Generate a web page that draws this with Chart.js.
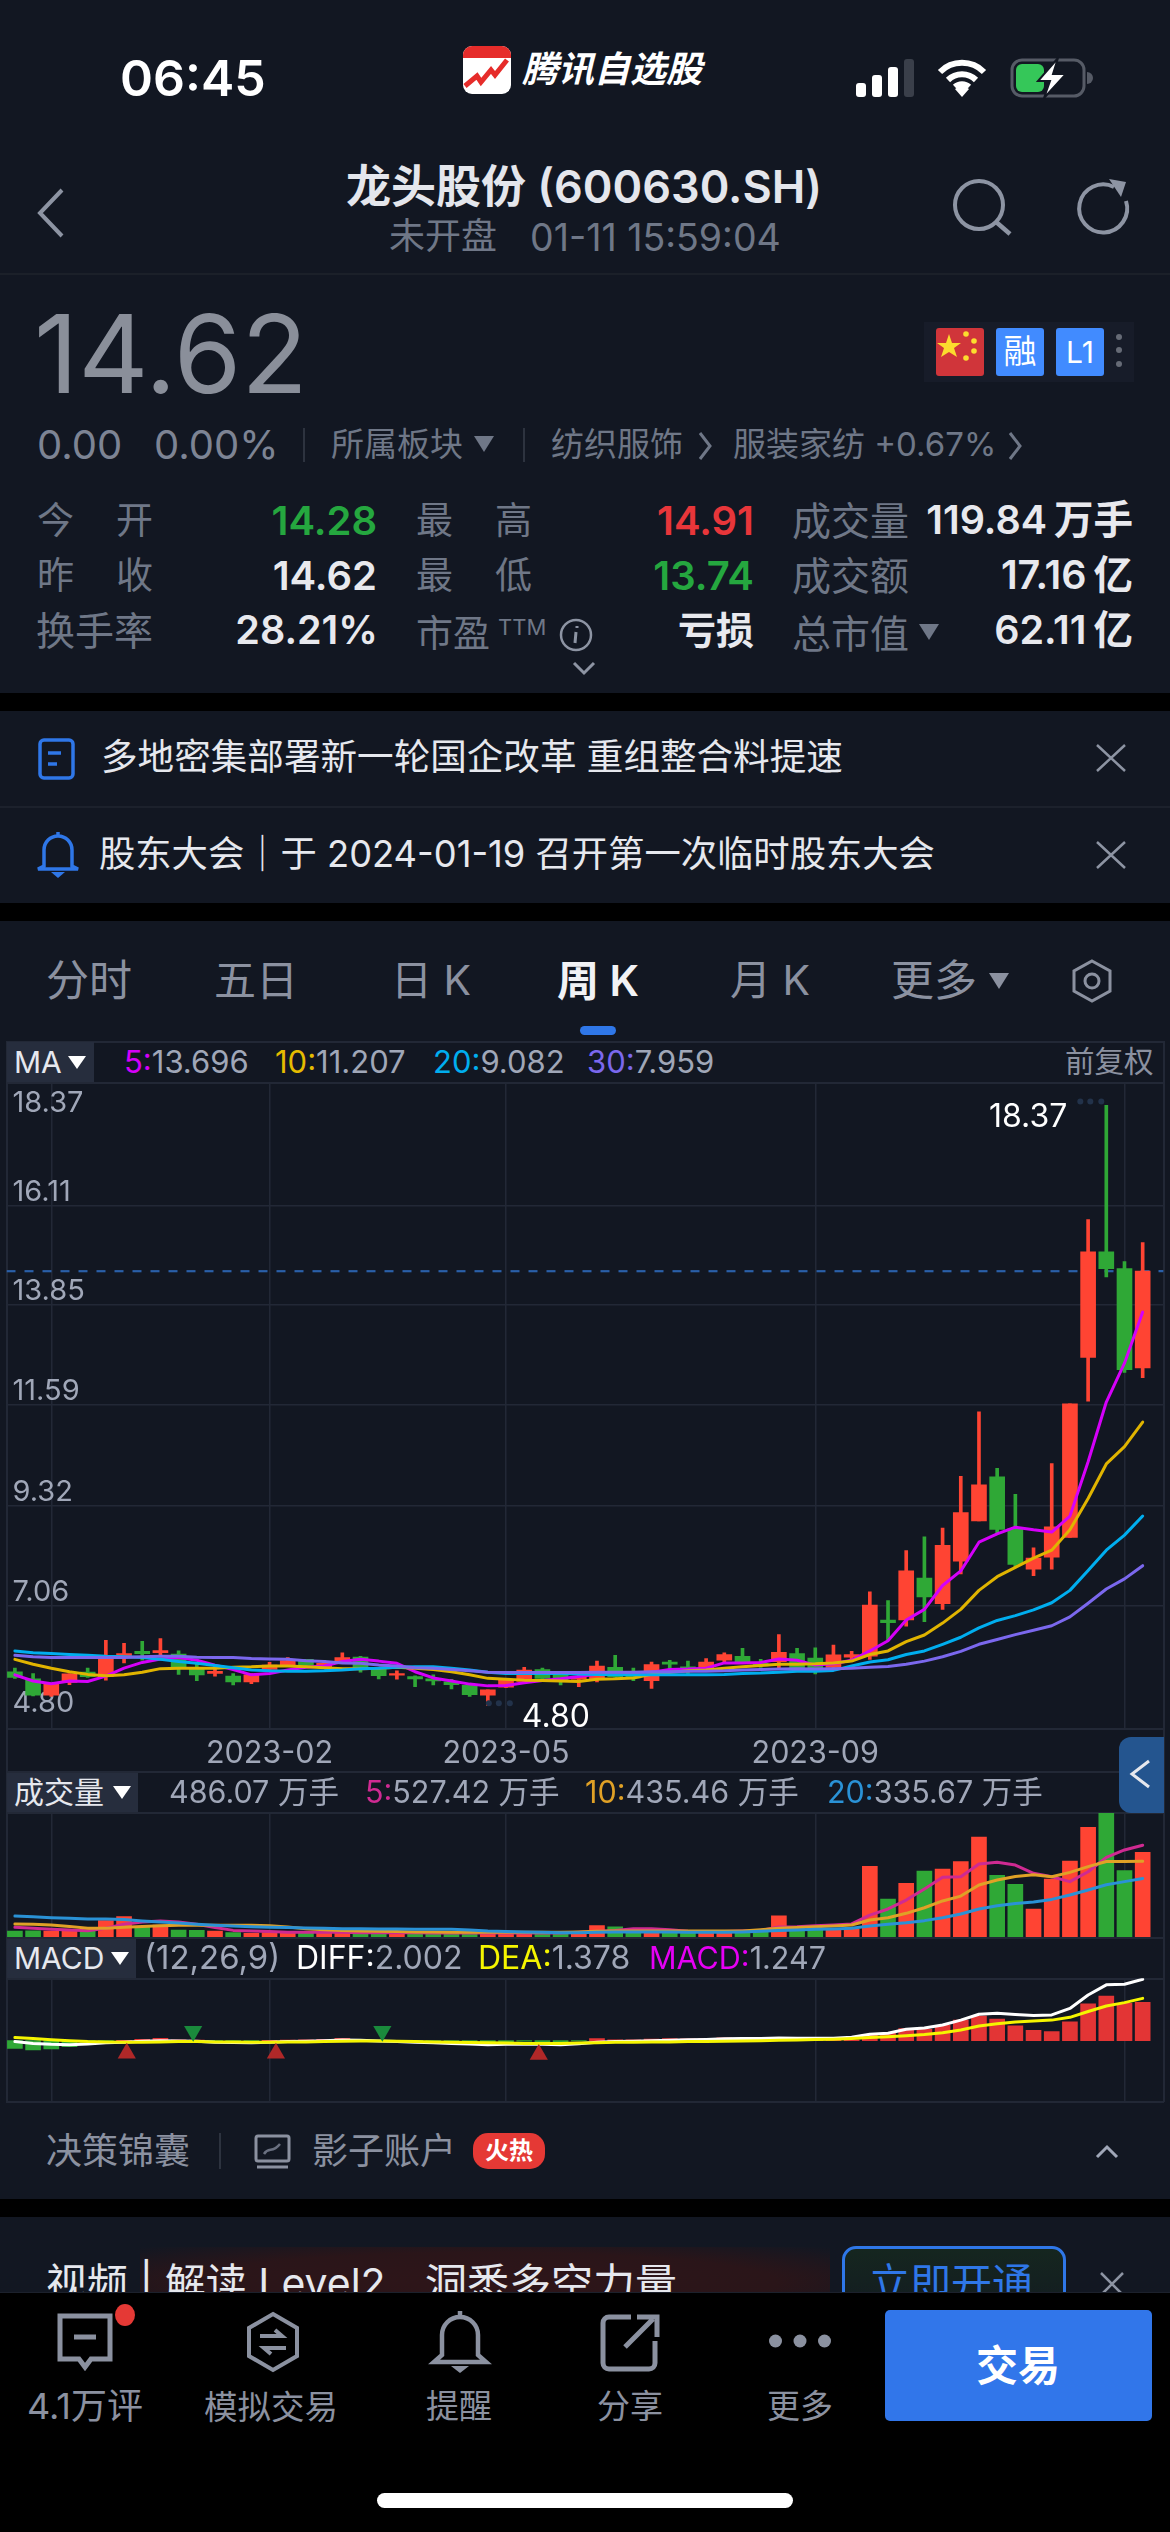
<!DOCTYPE html>
<html lang="zh-CN"><head><meta charset="utf-8"><title>龙头股份 周K</title>
<script src="https://cdn.jsdelivr.net/npm/chart.js@4"></script>
<style>
html,body{margin:0;padding:0;background:#000;}
#page{position:relative;width:1170px;height:2532px;overflow:hidden;background:#000;font-family:Inter,"Noto Sans CJK SC",sans-serif;color:#8b91a0;}
.sec{position:absolute;left:0;width:1170px;background:#121722;}
.t{position:absolute;white-space:nowrap;transform:translateY(-50%);line-height:1.2;}
.r{position:absolute;white-space:nowrap;transform:translateY(-50%);line-height:1.2;text-align:right;}
.r span{margin-left:7px;}
.c{position:absolute;white-space:nowrap;transform:translate(-50%,-50%);line-height:1.2;}
.box{position:absolute;background:#262d3d;}
.hl{position:absolute;left:6px;width:1158px;height:1.5px;background:#222836;}
.vl{position:absolute;width:1.5px;background:#222836;}
svg{position:absolute;overflow:visible;}
canvas{position:absolute;left:0;}
.tri{position:absolute;width:0;height:0;border-left:9px solid transparent;border-right:9px solid transparent;border-top:13px solid #fff;}
</style></head><body><div id="page">

<div class="sec" style="top:0;height:693px"></div>
<div class="sec" style="top:711px;height:192px"></div>
<div class="sec" style="top:921px;height:1278px"></div>
<div class="sec" style="top:2217px;height:80px"></div>

<!-- status bar -->
<div class="t" style="left:120px;top:78px;font-size:50px;font-weight:600;color:#fff">06:45</div>
<svg style="left:463px;top:46px" width="48" height="48" viewBox="0 0 48 48"><rect width="48" height="48" rx="9" fill="#fff"/><path d="M0 12V9a9 9 0 0 1 9-9h30a9 9 0 0 1 9 9v3z" fill="#e62c2a"/><path d="M2 40L14 30l4 6 10-12 4 5 12-15" fill="none" stroke="#e62c2a" stroke-width="5"/></svg>
<div class="t" style="left:522px;top:70px;font-size:36px;font-weight:700;font-style:italic;color:#fff">腾讯自选股</div>
<svg style="left:856px;top:59px" width="58" height="38"><rect x="0" y="24" width="10" height="14" rx="3" fill="#fff"/><rect x="16" y="16" width="10" height="22" rx="3" fill="#fff"/><rect x="32" y="8" width="10" height="30" rx="3" fill="#fff"/><rect x="48" y="0" width="10" height="38" rx="3" fill="#3a3f4a"/></svg>
<svg style="left:937px;top:59px" width="50" height="38" viewBox="0 0 50 38"><path d="M3 13a31 31 0 0 1 44 0M11 21a20 20 0 0 1 28 0M18 28a10 10 0 0 1 14 0" fill="none" stroke="#fff" stroke-width="6"/><path d="M25 38l-7-8a10 10 0 0 1 14 0z" fill="#fff"/></svg>
<svg style="left:1010px;top:58px" width="80" height="40" viewBox="0 0 80 40"><rect x="2" y="2" width="72" height="36" rx="10" fill="none" stroke="#565b66" stroke-width="3"/><rect x="6" y="6" width="28" height="28" rx="6" fill="#35c759"/><path d="M77 14a6 6 0 0 1 0 12z" fill="#565b66"/><path d="M48 0L28 23h12l-6 17 22-24H43z" fill="#fff" stroke="#121722" stroke-width="2"/></svg>

<!-- header -->
<svg style="left:36px;top:188px" width="28" height="50"><path d="M26 2L4 25l22 23" fill="none" stroke="#8d94a3" stroke-width="4"/></svg>
<div class="c" style="left:584px;top:187px;font-size:45px;font-weight:600;color:#e4e6ec">龙头股份 (600630.SH)</div>
<div class="t" style="left:389px;top:237px;font-size:36px;color:#6f7787">未开盘</div>
<div class="t" style="left:530px;top:237px;font-size:37.5px;color:#6f7787">01-11 15:59:04</div>
<svg style="left:953px;top:179px" width="60" height="56"><circle cx="26" cy="26" r="24" fill="none" stroke="#8d94a3" stroke-width="4"/><path d="M42 42l15 13" stroke="#8d94a3" stroke-width="4.5"/></svg>
<svg style="left:1076px;top:179px" width="52" height="54"><path d="M38 8a24 24 0 1 0 12 14" fill="none" stroke="#8d94a3" stroke-width="4"/><path d="M33 0l17 3-5 15z" fill="#8d94a3"/></svg>
<div style="position:absolute;left:0;top:273px;width:1170px;height:1.5px;background:#1b2029"></div>

<!-- quote -->
<div class="t" style="left:34px;top:353px;font-size:109px;font-weight:400;color:#8a8f9a">14.62</div>
<div style="position:absolute;left:924px;top:322px;width:210px;height:60px;background:#171c29"></div>
<svg style="left:936px;top:328px" width="48" height="48" viewBox="0 0 48 48"><rect width="48" height="48" rx="3" fill="#d0353a"/><polygon points="13,6 16,15 25,15 18,20 21,29 13,24 5,29 8,20 1,15 10,15" fill="#fcdc2e"/><circle cx="30" cy="6" r="2.8" fill="#fcdc2e"/><circle cx="38" cy="13" r="2.8" fill="#fcdc2e"/><circle cx="38" cy="23" r="2.8" fill="#fcdc2e"/><circle cx="30" cy="30" r="2.8" fill="#fcdc2e"/></svg>
<div style="position:absolute;left:996px;top:328px;width:48px;height:48px;border-radius:3px;background:#418bff"></div>
<div class="c" style="left:1020px;top:352px;font-size:33px;color:#fff">融</div>
<div style="position:absolute;left:1056px;top:328px;width:48px;height:48px;border-radius:3px;background:#418bff"></div>
<div class="c" style="left:1080px;top:352px;font-size:30px;color:#fff">L1</div>
<svg style="left:1115px;top:333px" width="8" height="36"><circle cx="4" cy="4" r="3" fill="#666b76"/><circle cx="4" cy="17" r="3" fill="#666b76"/><circle cx="4" cy="31" r="3" fill="#666b76"/></svg>

<div class="t" style="left:37px;top:445px;font-size:40px;color:#7d8494">0.00</div>
<div class="t" style="left:154px;top:445px;font-size:40px;color:#7d8494">0.00%</div>
<div style="position:absolute;left:303px;top:428px;width:2px;height:34px;background:#2d333f"></div>
<div class="t" style="left:331px;top:445px;font-size:33px;color:#6f7787">所属板块</div>
<svg style="left:474px;top:436px" width="20" height="16"><path d="M0 0h20L10 16z" fill="#6f7787"/></svg>
<div style="position:absolute;left:523px;top:428px;width:2px;height:34px;background:#2d333f"></div>
<div class="t" style="left:551px;top:445px;font-size:33px;color:#6f7787">纺织服饰</div>
<svg style="left:698px;top:431px" width="14" height="30"><path d="M2 2l10 13L2 28" fill="none" stroke="#6f7787" stroke-width="3"/></svg>
<div class="t" style="left:733px;top:445px;font-size:33px;color:#6f7787">服装家纺 +0.67%</div>
<svg style="left:1008px;top:431px" width="14" height="30"><path d="M2 2l10 13L2 28" fill="none" stroke="#6f7787" stroke-width="3"/></svg>

<div class="t" style="left:37px;top:521px;font-size:37px;color:#6f7787">今</div><div class="t" style="left:116px;top:521px;font-size:37px;color:#6f7787">开</div>
<div class="t" style="left:37px;top:576px;font-size:37px;color:#6f7787">昨</div><div class="t" style="left:116px;top:576px;font-size:37px;color:#6f7787">收</div>
<div class="t" style="left:36px;top:631px;font-size:39px;color:#6f7787">换手率</div>
<div class="r" style="right:793px;top:521px;font-size:40px;font-weight:600;color:#25a73f">14.28</div>
<div class="r" style="right:793px;top:576px;font-size:40px;font-weight:600;color:#e8e9ee">14.62</div>
<div class="r" style="right:792px;top:631px;font-size:39.5px;font-weight:600;color:#e8e9ee">28.21%</div>
<div class="t" style="left:416px;top:521px;font-size:37px;color:#6f7787">最</div><div class="t" style="left:495px;top:521px;font-size:37px;color:#6f7787">高</div>
<div class="t" style="left:416px;top:576px;font-size:37px;color:#6f7787">最</div><div class="t" style="left:495px;top:576px;font-size:37px;color:#6f7787">低</div>
<div class="t" style="left:416px;top:634px;font-size:37px;color:#6f7787">市盈</div>
<div class="t" style="left:498px;top:627px;font-size:22px;color:#6f7787">TTM</div>
<svg style="left:559px;top:618px" width="34" height="34"><circle cx="17" cy="17" r="15" fill="none" stroke="#8d94a3" stroke-width="2.5"/><path d="M18 8v2M17 14l-1 11" stroke="#8d94a3" stroke-width="3"/></svg>
<svg style="left:572px;top:661px" width="24" height="14"><path d="M2 2l10 10L22 2" fill="none" stroke="#8d94a3" stroke-width="3"/></svg>
<div class="r" style="right:416px;top:521px;font-size:40px;font-weight:600;color:#e8363a">14.91</div>
<div class="r" style="right:416px;top:576px;font-size:40px;font-weight:600;color:#25a73f">13.74</div>
<div class="r" style="right:416px;top:631px;font-size:38px;font-weight:600;color:#e8e9ee">亏损</div>
<div class="t" style="left:792px;top:521px;font-size:39px;color:#6f7787">成交量</div>
<div class="t" style="left:792px;top:576px;font-size:39px;color:#6f7787">成交额</div>
<div class="t" style="left:792px;top:634px;font-size:39px;color:#6f7787">总市值</div>
<svg style="left:919px;top:624px" width="20" height="16"><path d="M0 0h20L10 16z" fill="#6f7787"/></svg>
<div class="r" style="right:37px;top:521px;font-size:39.5px;font-weight:600;color:#e8e9ee">119.84<span>万手</span></div>
<div class="r" style="right:37px;top:576px;font-size:39.5px;font-weight:600;color:#e8e9ee">17.16<span>亿</span></div>
<div class="r" style="right:37px;top:631px;font-size:39.5px;font-weight:600;color:#e8e9ee">62.11<span>亿</span></div>

<!-- news -->
<svg style="left:38px;top:738px" width="38" height="42"><rect x="2" y="2" width="33" height="38" rx="4" fill="none" stroke="#2f77e8" stroke-width="3.5"/><path d="M10 15h13M10 26h9" stroke="#2f77e8" stroke-width="3.5"/></svg>
<div class="t" style="left:101px;top:758px;font-size:36.6px;color:#e6e8ee">多地密集部署新一轮国企改革 重组整合料提速</div>
<svg style="left:1096px;top:744px" width="30" height="28"><path d="M1 1l28 26M29 1L1 27" stroke="#8d94a3" stroke-width="2.5"/></svg>
<div style="position:absolute;left:0;top:806px;width:1170px;height:1.5px;background:#1c212c"></div>
<svg style="left:36px;top:832px" width="44" height="46"><path d="M22 0v4M8 34V18a14 14 0 0 1 28 0v16l6 3H2z" fill="none" stroke="#2f77e8" stroke-width="3.5"/><path d="M15 40h14l-7 6z" fill="#2f77e8"/></svg>
<div class="t" style="left:99px;top:855px;font-size:36.3px;color:#e6e8ee">股东大会｜于 2024-01-19 召开第一次临时股东大会</div>
<svg style="left:1096px;top:841px" width="30" height="28"><path d="M1 1l28 26M29 1L1 27" stroke="#8d94a3" stroke-width="2.5"/></svg>

<!-- tabs -->
<div class="t" style="left:46px;top:981px;font-size:43px;color:#8b91a0">分时</div>
<div class="t" style="left:214px;top:981px;font-size:42px;color:#8b91a0">五日</div>
<div class="t" style="left:391px;top:981px;font-size:41px;color:#8b91a0">日 K</div>
<div class="t" style="left:557px;top:981px;font-size:42px;font-weight:600;color:#f1f2f5">周 K</div>
<div class="t" style="left:730px;top:981px;font-size:41px;color:#8b91a0">月 K</div>
<div class="t" style="left:891px;top:981px;font-size:43px;color:#8b91a0">更多</div>
<svg style="left:989px;top:973px" width="20" height="16"><path d="M0 0h20L10 16z" fill="#8b91a0"/></svg>
<svg style="left:1071px;top:959px" width="42" height="44"><path d="M21 2l18 10v20L21 42 3 32V12z" fill="none" stroke="#8b91a0" stroke-width="3"/><circle cx="21" cy="22" r="7" fill="none" stroke="#8b91a0" stroke-width="3"/></svg>
<div style="position:absolute;left:580px;top:1026px;width:36px;height:9px;border-radius:5px;background:#2f77e8"></div>

<!-- chart frame -->
<div class="hl" style="top:1041px"></div><div class="hl" style="top:1082px"></div><div class="hl" style="top:1728px"></div>
<div class="hl" style="top:1771px"></div><div class="hl" style="top:1812px"></div><div class="hl" style="top:1937px"></div>
<div class="hl" style="top:1978px"></div><div class="hl" style="top:2101px"></div>
<div class="vl" style="left:6px;top:1041px;height:1061px"></div><div class="vl" style="left:1163px;top:1041px;height:1061px"></div>

<div class="box" style="left:7px;top:1042px;width:87px;height:40px"></div>
<div class="t" style="left:14px;top:1062px;font-size:30px;color:#e6e8ee">MA</div>
<div class="tri" style="left:68px;top:1056px;"></div>
<div class="t" style="left:124px;top:1062px;font-size:31px;color:#a0a7b8"><span style="color:#d500f9">5:</span>13.696</div>
<div class="t" style="left:275px;top:1062px;font-size:31px;color:#a0a7b8"><span style="color:#e5bc00">10:</span>11.207</div>
<div class="t" style="left:433px;top:1062px;font-size:31px;color:#a0a7b8"><span style="color:#00aeef">20:</span>9.082</div>
<div class="t" style="left:587px;top:1062px;font-size:31px;color:#a0a7b8"><span style="color:#7b68ee">30:</span>7.959</div>
<div class="t" style="left:1065px;top:1062px;font-size:29.5px;color:#8b91a0">前复权</div>

<canvas id="priceChart" width="1170" height="720" style="top:1060px"></canvas>

<div class="box" style="left:7px;top:1773px;width:131px;height:39px"></div>
<div class="t" style="left:14px;top:1792px;font-size:30px;color:#e6e8ee">成交量</div>
<div class="tri" style="left:113px;top:1786px;"></div>
<div class="t" style="left:169px;top:1792px;font-size:30.5px;color:#a0a7b8">486.07 万手</div>
<div class="t" style="left:365px;top:1792px;font-size:30.5px;color:#a0a7b8"><span style="color:#cf2a92">5:</span>527.42 万手</div>
<div class="t" style="left:585px;top:1792px;font-size:30.5px;color:#a0a7b8"><span style="color:#e0a126">10:</span>435.46 万手</div>
<div class="t" style="left:827px;top:1792px;font-size:30.5px;color:#a0a7b8"><span style="color:#2a92d6">20:</span>335.67 万手</div>
<canvas id="volumeChart" width="1170" height="130" style="top:1810px"></canvas>

<div class="box" style="left:7px;top:1939px;width:129px;height:39px"></div>
<div class="t" style="left:14px;top:1958px;font-size:30px;color:#e6e8ee">MACD</div>
<div class="tri" style="left:111px;top:1952px;"></div>
<div class="t" style="left:144px;top:1958px;font-size:33px;color:#a0a7b8">(12,26,9)</div>
<div class="t" style="left:296px;top:1958px;font-size:32px;color:#a0a7b8"><span style="color:#fff">DIFF:</span>2.002</div>
<div class="t" style="left:478px;top:1958px;font-size:32px;color:#a0a7b8"><span style="color:#f5f500">DEA:</span>1.378</div>
<div class="t" style="left:649px;top:1958px;font-size:30.5px;color:#a0a7b8"><span style="color:#e600f5">MACD:</span>1.247</div>
<canvas id="macdChart" width="1170" height="130" style="top:1975px"></canvas>

<svg style="left:1119px;top:1737px" width="45" height="76"><path d="M45 0H12A12 12 0 0 0 0 12v52a12 12 0 0 0 12 12h33z" fill="#24558f"/><path d="M30 24L13 37l17 13" fill="none" stroke="#e6e8ee" stroke-width="3"/></svg>

<!-- decision bar -->
<div class="t" style="left:46px;top:2152px;font-size:36px;color:#8b91a0">决策锦囊</div>
<div style="position:absolute;left:219px;top:2133px;width:2px;height:36px;background:#2d333f"></div>
<svg style="left:254px;top:2134px" width="38" height="36"><rect x="2" y="2" width="33" height="25" rx="2" fill="none" stroke="#8b91a0" stroke-width="3"/><path d="M3 33h31" stroke="#8b91a0" stroke-width="3"/><path d="M10 20c5-8 8 0 16-10" fill="none" stroke="#6a7080" stroke-width="2.5"/></svg>
<div class="t" style="left:312px;top:2152px;font-size:36px;color:#8b91a0">影子账户</div>
<div style="position:absolute;left:473px;top:2133px;width:72px;height:36px;border-radius:15px;background:#e53935"></div>
<div class="c" style="left:509px;top:2151px;font-size:24px;font-weight:700;color:#fff">火热</div>
<svg style="left:1095px;top:2145px" width="24" height="14"><path d="M2 12L12 2l10 10" fill="none" stroke="#a0a7b8" stroke-width="3"/></svg>

<!-- ad, clipped by the toolbar -->
<div style="position:absolute;left:140px;top:2247px;width:690px;height:50px;background:radial-gradient(ellipse at 50% 70%,#2e1519 0%,#2a1519 60%,#121722 100%)"></div>
<div class="t" style="left:46px;top:2284px;font-size:41px;color:#e6e8ee">视频 | 解读 Level2</div>
<div class="t" style="left:425px;top:2284px;font-size:42px;color:#e6e8ee">洞悉多空力量</div>
<div style="position:absolute;left:842px;top:2246px;width:218px;height:90px;border:3px solid #2f77e8;border-radius:14px;box-sizing:content-box;background:linear-gradient(#15261f,#121722)"></div>
<div class="t" style="left:869px;top:2284px;font-size:41px;color:#2f77e8">立即开通</div>
<svg style="left:1100px;top:2272px" width="24" height="24"><path d="M1 1l22 22M23 1L1 23" stroke="#8d94a3" stroke-width="2.5"/></svg>

<!-- toolbar -->
<div style="position:absolute;left:0;top:2292px;width:1170px;height:240px;background:#000;border-top:1.5px solid #1c212c;box-sizing:border-box"></div>
<svg style="left:57px;top:2313px" width="58" height="56"><path d="M3 3h50v43H34l-6 8-6-8H3z" fill="none" stroke="#8b91a0" stroke-width="5"/><path d="M17 24h22" stroke="#8b91a0" stroke-width="5"/></svg>
<svg style="left:115px;top:2304px" width="20" height="22"><ellipse cx="10" cy="11" rx="10" ry="11" fill="#e53935"/></svg>
<svg style="left:246px;top:2311px" width="54" height="62"><path d="M27 3l24 14v28L27 59 3 45V17z" fill="none" stroke="#8b91a0" stroke-width="4"/><path d="M14 25h22l-7-6M40 37H18l7 6" fill="none" stroke="#8b91a0" stroke-width="4"/></svg>
<svg style="left:431px;top:2311px" width="58" height="62"><path d="M29 0v8M11 44V24a18 18 0 0 1 36 0v20l8 7H3z" fill="none" stroke="#8b91a0" stroke-width="4.5"/><path d="M20 55h18l-9 7z" fill="#8b91a0"/></svg>
<svg style="left:601px;top:2313px" width="58" height="58"><path d="M30 4H8a6 6 0 0 0-6 6v40a6 6 0 0 0 6 6h40a6 6 0 0 0 6-6V28M24 34L52 6M36 4h20v20" fill="none" stroke="#8b91a0" stroke-width="5"/></svg>
<svg style="left:769px;top:2334px" width="62" height="14"><circle cx="6.5" cy="7" r="6.5" fill="#8b91a0"/><circle cx="31" cy="7" r="6.5" fill="#8b91a0"/><circle cx="55.5" cy="7" r="6.5" fill="#8b91a0"/></svg>
<div class="c" style="left:85px;top:2407px;font-size:36px;color:#8b91a0">4.1万评</div>
<div class="c" style="left:271px;top:2407px;font-size:33.5px;color:#8b91a0">模拟交易</div>
<div class="c" style="left:459px;top:2407px;font-size:33px;color:#8b91a0">提醒</div>
<div class="c" style="left:630px;top:2407px;font-size:33px;color:#8b91a0">分享</div>
<div class="c" style="left:800px;top:2407px;font-size:33px;color:#8b91a0">更多</div>
<div style="position:absolute;left:885px;top:2310px;width:267px;height:111px;border-radius:5px;background:#3176ea"></div>
<div class="c" style="left:1018px;top:2366px;font-size:42px;font-weight:700;color:#fff">交易</div>
<div style="position:absolute;left:377px;top:2493px;width:416px;height:15px;border-radius:8px;background:#fff"></div>
</div>

<script>
const weekTicks = [2, 14, 27, 44, 61];
const weekTickLabels = ['', '2023-02', '2023-05', '2023-09', ''];
const priceGridTicks = [16.11, 13.85, 11.59, 9.32, 7.06];
const priceEdgeTicks = [18.37, 4.80];
const prevClose = 14.62;

const opens = [5.56,5.40,5.03,5.32,5.55,5.45,5.92,6.02,5.99,5.96,5.66,5.52,5.46,5.33,5.61,5.70,5.84,5.66,5.77,5.89,5.61,5.48,5.45,5.40,5.33,5.25,5.03,5.21,5.34,5.61,5.49,5.39,5.39,5.66,5.50,5.36,5.78,5.67,5.63,5.82,5.91,5.75,5.79,5.97,5.87,5.66,5.89,5.91,6.73,6.73,7.68,7.10,8.06,8.97,9.97,8.80,7.88,8.15,8.60,12.67,15.06,14.68,12.43];
const closes = [5.43,5.03,5.28,5.51,5.45,5.84,5.97,5.97,6.04,5.66,5.49,5.57,5.33,5.49,5.71,5.81,5.70,5.75,5.88,5.66,5.47,5.52,5.40,5.35,5.27,5.04,5.15,5.39,5.60,5.41,5.37,5.45,5.69,5.45,5.42,5.72,5.73,5.64,5.78,5.95,5.79,5.69,6.00,5.64,5.64,5.94,5.95,7.07,6.67,7.84,7.25,8.42,9.16,9.79,8.78,7.99,8.13,8.84,11.62,15.06,14.68,12.39,14.62];
const highs = [5.64,5.52,5.29,5.51,5.64,6.27,6.20,6.25,6.31,6.03,5.75,5.73,5.52,5.52,5.77,5.88,5.84,5.82,5.99,5.91,5.66,5.58,5.47,5.49,5.39,5.25,5.15,5.39,5.66,5.64,5.54,5.56,5.80,5.93,5.64,5.78,5.82,5.80,5.86,5.99,6.09,5.84,6.40,6.09,6.10,6.16,6.02,7.37,7.17,8.30,8.61,8.81,9.98,11.44,10.16,9.57,8.36,10.27,11.62,15.79,18.37,14.84,15.27];
const lows = [5.41,5.01,5.00,5.27,5.43,5.37,5.76,5.82,5.94,5.50,5.36,5.46,5.26,5.29,5.58,5.69,5.69,5.64,5.75,5.55,5.40,5.39,5.22,5.26,5.17,5.00,4.80,5.20,5.30,5.39,5.26,5.22,5.33,5.43,5.36,5.18,5.61,5.49,5.60,5.75,5.75,5.66,5.61,5.60,5.51,5.62,5.83,5.84,6.28,6.59,6.69,6.97,7.77,8.97,8.70,7.93,7.73,7.88,8.60,11.68,14.49,12.33,12.21];

const ma5 = [5.49,5.35,5.29,5.35,5.34,5.46,5.64,5.77,5.85,5.88,5.82,5.71,5.61,5.49,5.52,5.60,5.66,5.69,5.79,5.84,5.80,5.75,5.56,5.42,5.35,5.28,5.24,5.25,5.31,5.36,5.40,5.45,5.50,5.51,5.51,5.55,5.61,5.62,5.64,5.76,5.76,5.77,5.85,5.82,5.71,5.74,5.82,6.03,6.26,6.73,6.97,7.51,7.84,8.49,8.68,8.83,8.77,8.72,9.08,10.31,11.66,12.54,13.696];
const ma10 = [5.84,5.73,5.64,5.56,5.50,5.47,5.49,5.55,5.63,5.64,5.64,5.64,5.66,5.67,5.69,5.69,5.67,5.65,5.63,5.63,5.64,5.66,5.64,5.61,5.56,5.49,5.41,5.39,5.37,5.36,5.35,5.34,5.39,5.40,5.42,5.50,5.54,5.58,5.60,5.64,5.67,5.70,5.73,5.73,5.74,5.76,5.80,5.95,6.03,6.24,6.39,6.66,6.97,7.40,7.71,7.92,8.13,8.31,8.77,9.48,10.26,10.65,11.207];
const ma20 = [6.03,5.99,5.97,5.95,5.93,5.91,5.90,5.88,5.84,5.79,5.75,5.70,5.65,5.60,5.58,5.57,5.57,5.58,5.60,5.63,5.64,5.66,5.67,5.67,5.64,5.60,5.55,5.52,5.52,5.52,5.52,5.51,5.50,5.49,5.49,5.49,5.49,5.49,5.49,5.50,5.52,5.53,5.55,5.57,5.57,5.59,5.69,5.78,5.83,5.95,6.03,6.18,6.34,6.55,6.72,6.83,6.96,7.12,7.40,7.85,8.31,8.65,9.082];
const ma30 = [5.93,5.90,5.88,5.88,5.88,5.88,5.88,5.90,5.91,5.91,5.89,5.88,5.88,5.86,5.85,5.84,5.81,5.79,5.76,5.75,5.71,5.69,5.65,5.64,5.61,5.58,5.55,5.54,5.54,5.54,5.54,5.54,5.55,5.55,5.55,5.56,5.56,5.57,5.57,5.58,5.60,5.61,5.62,5.63,5.62,5.63,5.64,5.66,5.68,5.73,5.80,5.90,6.02,6.18,6.29,6.40,6.50,6.60,6.80,7.11,7.43,7.66,7.959];

const volumes = [34,36,34,34,34,94,117,56,69,40,38,34,25,21,25,25,25,25,29,27,27,25,21,19,19,21,25,25,25,25,23,25,65,59,31,36,34,31,34,36,34,34,121,56,50,46,46,406,218,308,379,390,433,574,354,302,161,333,436,630,710,381,486.07];
const volMa5 = [56,50,44,40,36,50,73,86,92,86,73,54,38,34,31,27,27,27,27,25,25,25,25,23,23,23,23,23,23,23,23,27,31,38,48,48,42,33,31,31,34,38,57,59,65,69,75,126,161,212,276,343,346,419,429,413,366,346,318,375,457,500,527.42];
const volMa10 = [75,73,69,61,50,50,56,61,65,67,67,67,67,67,65,57,48,42,38,34,33,31,29,29,27,27,27,27,27,27,27,29,33,34,34,34,34,34,34,34,34,42,50,54,59,63,69,98,111,136,168,207,235,299,327,348,358,346,371,404,434,433,435.46];
const volMa20 = [121,117,111,107,103,103,100,92,86,80,73,67,63,59,56,54,52,50,48,48,46,46,44,44,44,40,34,31,29,27,25,25,27,29,29,29,29,27,27,27,29,33,38,40,44,46,50,63,73,82,94,111,132,161,180,193,201,216,241,270,300,318,335.67];

const macdBars = [-.25,-.30,-.27,-.20,-.05,-.02,.01,.04,.08,.03,.02,-.01,-.02,-.02,.01,.02,.03,.04,.08,.03,.01,-.01,-.03,-.04,-.05,-.07,-.06,-.04,-.02,-.03,-.04,-.01,.07,.03,.03,.05,.07,.06,.07,.09,.06,.06,.06,.03,.02,.03,.03,.18,.24,.39,.37,.50,.67,.80,.70,.48,.34,.30,.61,1.20,1.45,1.22,1.247];
const diffLine = [-.03,-.09,-.12,-.13,-.11,-.07,-.05,-.02,0,-.01,-.02,-.05,-.06,-.07,-.05,-.03,-.02,0,.02,.01,-.01,-.03,-.05,-.07,-.09,-.11,-.13,-.12,-.11,-.12,-.13,-.10,-.05,-.03,-.02,0,.01,.03,.04,.06,.07,.07,.09,.08,.08,.08,.11,.21,.24,.37,.41,.51,.67,.86,.89,.85,.82,.84,1.05,1.49,1.82,1.84,2.002];
const deaLine = [.10,.07,.03,0,-.03,-.04,-.05,-.05,-.04,-.03,-.03,-.04,-.04,-.05,-.05,-.04,-.04,-.03,-.02,-.01,-.01,-.02,-.03,-.04,-.05,-.06,-.07,-.08,-.09,-.09,-.09,-.08,-.07,-.05,-.05,-.04,-.04,-.03,-.03,-.02,-.01,0,.01,.02,.04,.05,.07,.10,.13,.16,.20,.26,.35,.48,.55,.61,.64,.67,.76,.95,1.13,1.24,1.378];
const upSignalWeeks = [6.15, 14.35, 28.8];
const upSignalValues = [-.41, -.41, -.45];
const downSignalWeeks = [9.8, 20.2];
const downSignalValues = [.31, .31];

const RED = '#ff4433', GREEN = '#2fa836', GRID = '#222836', TICK = '#a0a7b8';
const FONT = 'Inter, "Noto Sans CJK SC", sans-serif';
const X_MIN = -0.462, X_MAX = 63.15;
const isUp = i => closes[i] >= opens[i];
const pts = a => a.map((y, x) => ({x, y}));
const lineSet = (data, color, width, order) => ({type:'line', data:pts(data), borderColor:color, borderWidth:width, pointRadius:0, tension:0, order, borderJoinStyle:'round', borderCapStyle:'round'});

function xAxis(showLabels, height) {
  return {
    type:'linear', offset:false, min:X_MIN, max:X_MAX,
    afterBuildTicks: s => { s.ticks = weekTicks.map(value => ({value})); },
    grid:{color:GRID, lineWidth:1.5, drawTicks:false, offset:false},
    border:{display:false},
    ticks:{display:showLabels, autoSkip:false, maxRotation:0, minRotation:0, padding:7, color:TICK,
      font:{family:FONT, size:30.5},
      callback: v => weekTickLabels[weekTicks.indexOf(v)] || ''},
    afterFit: s => { s.height = height; }
  };
}
const base = {responsive:false, animation:false, devicePixelRatio:1, plugins:{legend:{display:false}, tooltip:{enabled:false}}, events:[]};
const zeroWidth = s => { s.width = 0; };

const extremeLabels = {
  id:'extremeLabels',
  afterDatasetsDraw(chart) {
    const {x, y} = chart.scales, ctx = chart.ctx;
    const hi = highs.indexOf(Math.max(...highs)), lo = lows.indexOf(Math.min(...lows));
    const hx = x.getPixelForValue(hi), hy = y.getPixelForValue(highs[hi]);
    const lx = x.getPixelForValue(lo), ly = y.getPixelForValue(lows[lo]);
    ctx.save();
    ctx.fillStyle = '#22324a';
    [-26,-16,-5].forEach(d => { ctx.beginPath(); ctx.arc(hx + d, hy - 4, 3, 0, 7); ctx.fill(); });
    [1,11,22].forEach(d => { ctx.beginPath(); ctx.arc(lx + d, ly - 2, 3, 0, 7); ctx.fill(); });
    ctx.fillStyle = '#fff'; ctx.font = '32px ' + FONT; ctx.textBaseline = 'middle';
    ctx.textAlign = 'right'; ctx.fillText(highs[hi].toFixed(2), hx - 39, hy + 12);
    ctx.textAlign = 'left'; ctx.fillText(lows[lo].toFixed(2), lx + 34, ly + 12);
    ctx.restore();
  }
};

new Chart(document.getElementById('priceChart'), {
  type:'bar',
  data:{datasets:[
    lineSet(ma30, '#7b68ee', 3, 1),
    lineSet(ma20, '#00aeef', 3, 2),
    lineSet(ma10, '#e0b400', 3, 3),
    lineSet(ma5, '#d500f9', 3, 4),
    {data:opens.map((o,i)=>({x:i, y:[o, closes[i]]})), barThickness:15, grouped:false, order:5,
      backgroundColor:opens.map((o,i)=>isUp(i)?RED:GREEN)},
    {data:highs.map((h,i)=>({x:i, y:[lows[i], h]})), barThickness:3, grouped:false, order:6,
      backgroundColor:opens.map((o,i)=>isUp(i)?RED:GREEN)},
    {type:'line', data:[{x:X_MIN,y:prevClose},{x:X_MAX,y:prevClose}], borderColor:'#2a5fa8', borderWidth:2.2, borderDash:[9,9], pointRadius:0, order:7}
  ]},
  options:{...base,
    layout:{autoPadding:false, padding:{left:6.5,right:6.4,top:22.8,bottom:0}},
    scales:{
      x:xAxis(true, 51.2),
      y:{type:'linear', position:'left', min:4.269, max:18.868, afterFit:zeroWidth,
        afterBuildTicks:s=>{s.ticks=priceGridTicks.map(value=>({value}));},
        grid:{color:GRID, lineWidth:1.5, drawTicks:false}, border:{display:false},
        ticks:{mirror:true, padding:6, labelOffset:-13.5, color:TICK, font:{family:FONT,size:29}, callback:v=>v.toFixed(2)}},
      y2:{type:'linear', position:'left', min:4.269, max:18.868, afterFit:zeroWidth,
        afterBuildTicks:s=>{s.ticks=priceEdgeTicks.map(value=>({value}));},
        grid:{display:false, drawTicks:false}, border:{display:false},
        ticks:{mirror:true, padding:6, labelOffset:-2, color:TICK, font:{family:FONT,size:29}, callback:v=>v.toFixed(2)}}
    }},
  plugins:[extremeLabels]
});

new Chart(document.getElementById('volumeChart'), {
  type:'bar',
  data:{datasets:[
    lineSet(volMa20, '#2a92d6', 3, 1),
    lineSet(volMa10, '#e0a126', 3, 2),
    lineSet(volMa5, '#cf2a92', 3, 3),
    {data:pts(volumes), barThickness:15, order:4, backgroundColor:volumes.map((v,i)=>isUp(i)?RED:GREEN)}
  ]},
  options:{...base,
    layout:{autoPadding:false, padding:{left:6.5,right:6.4,top:2.7,bottom:3}},
    scales:{x:xAxis(false, 0), y:{display:false, min:0, max:714}}}
});

new Chart(document.getElementById('macdChart'), {
  type:'bar',
  data:{datasets:[
    {type:'line', data:upSignalWeeks.map((x,i)=>({x,y:upSignalValues[i]})), showLine:false, pointStyle:'triangle', pointRadius:10.5, pointBackgroundColor:'#b02828', pointBorderWidth:0, order:0},
    {type:'line', data:downSignalWeeks.map((x,i)=>({x,y:downSignalValues[i]})), showLine:false, pointStyle:'triangle', pointRotation:180, pointRadius:10.5, pointBackgroundColor:'#1a8a3c', pointBorderWidth:0, order:0},
    lineSet(deaLine, '#f5f500', 3, 1),
    lineSet(diffLine, '#ffffff', 3, 2),
    {data:pts(macdBars), barThickness:15, order:3, backgroundColor:macdBars.map(v=>v>=0?'#e33535':GREEN)}
  ]},
  options:{...base,
    layout:{autoPadding:false, padding:{left:6.5,right:6.4,top:3.3,bottom:3.3}},
    scales:{x:xAxis(false, 0), y:{display:false, min:-1.99, max:2.033}}}
});
</script>
</body></html>
